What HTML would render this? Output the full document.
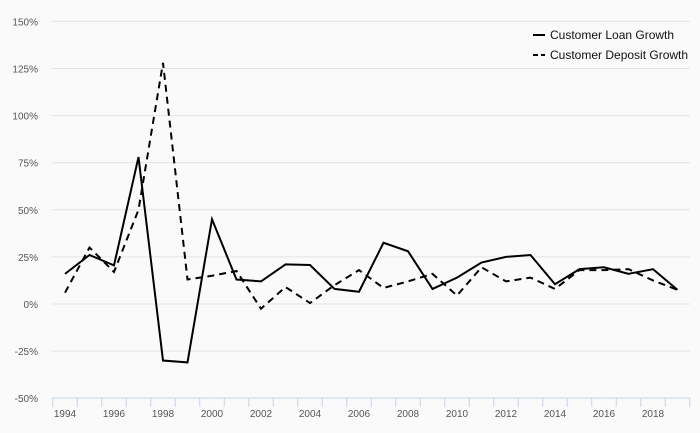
<!DOCTYPE html>
<html><head><meta charset="utf-8"><style>
body{margin:0;background:#fafafa;font-family:"Liberation Sans",sans-serif;}
svg{display:block}
</style></head><body>
<svg id="chart" width="700" height="433" xmlns="http://www.w3.org/2000/svg">
<rect width="700" height="433" fill="#fafafa"/>
<g id="grid"></g>
<g id="yticks"></g>
<g id="xaxis"></g>
<g id="series"></g>
<g font-size="12" fill="#111">
<g>
<line x1="533" y1="35" x2="545" y2="35" stroke="#000" stroke-width="2"/>
<text x="550" y="39">Customer Loan Growth</text></g>
<g>
<line x1="533" y1="55" x2="545" y2="55" stroke="#000" stroke-width="2" stroke-dasharray="5,3"/>
<text x="550" y="59">Customer Deposit Growth</text></g>
</g>
</svg>
<script>
const years=[1994,1995,1996,1997,1998,1999,2000,2001,2002,2003,2004,2005,2006,2007,2008,2009,2010,2011,2012,2013,2014,2015,2016,2017,2018,2019];
const loanGrowth=[16,26,20.5,78,-30,-31,45,13,12,21,20.7,8,6.5,32.5,28,8,14,22,25,26,10.5,18.5,19.5,16,18.5,7.5];
const depositGrowth=[6,30,17,50,128,13,15,17.5,-2.5,9,0.5,10,18,8.5,12,16,4.5,19.5,12,14,8,18,18,18.5,12.5,7.5];
const yTicks=[150,125,100,75,50,25,0,-25,-50];
const xLabels=[1994,1996,1998,2000,2002,2004,2006,2008,2010,2012,2014,2016,2018];
const NS='http://www.w3.org/2000/svg';
const yS=v=>304-(v/25)*47.1;
const xS=yr=>65+(yr-1994)*24.5;
function mk(t,a,p){const e=document.createElementNS(NS,t);for(const k in a)e.setAttribute(k,a[k]);p.appendChild(e);return e;}
const grid=document.getElementById('grid'),yt=document.getElementById('yticks'),xa=document.getElementById('xaxis'),se=document.getElementById('series');
yTicks.forEach(v=>{
 if(v>-50){const l=mk('line',{x1:52,x2:690,y1:yS(v),y2:yS(v),stroke:'#e3e3e3','stroke-width':1},grid);
 
 }
 const t=mk('text',{x:38,y:yS(v)+4,'text-anchor':'end','font-size':10,fill:'#555'},yt);
 t.textContent=v+'%';
 
 
});
const ax=mk('line',{x1:52,x2:690,y1:398,y2:398,stroke:'#c6d4ec','stroke-width':1},xa);


for(let i=0;i<=years.length;i++){const x=52.75+i*24.5;
 const tk=mk('line',{x1:x,x2:x,y1:398,y2:407,stroke:'#c6d4ec','stroke-width':1},xa);
 
 }
xLabels.forEach(y=>{const t=mk('text',{x:xS(y),y:417,'text-anchor':'middle','font-size':10,fill:'#555'},xa);
 t.textContent=y;
 
 });
function line(vals,dash,name){const pts=vals.map((v,i)=>xS(years[i])+','+yS(v)).join(' ');
 const p=mk('polyline',{points:pts,fill:'none',stroke:'#000','stroke-width':2,'stroke-linejoin':'miter'},se);
 if(dash)p.setAttribute('stroke-dasharray','7,5');
 
 }
line(loanGrowth,false,'customer-loan-growth-line');
line(depositGrowth,true,'customer-deposit-growth-line');
</script>
</body></html>
